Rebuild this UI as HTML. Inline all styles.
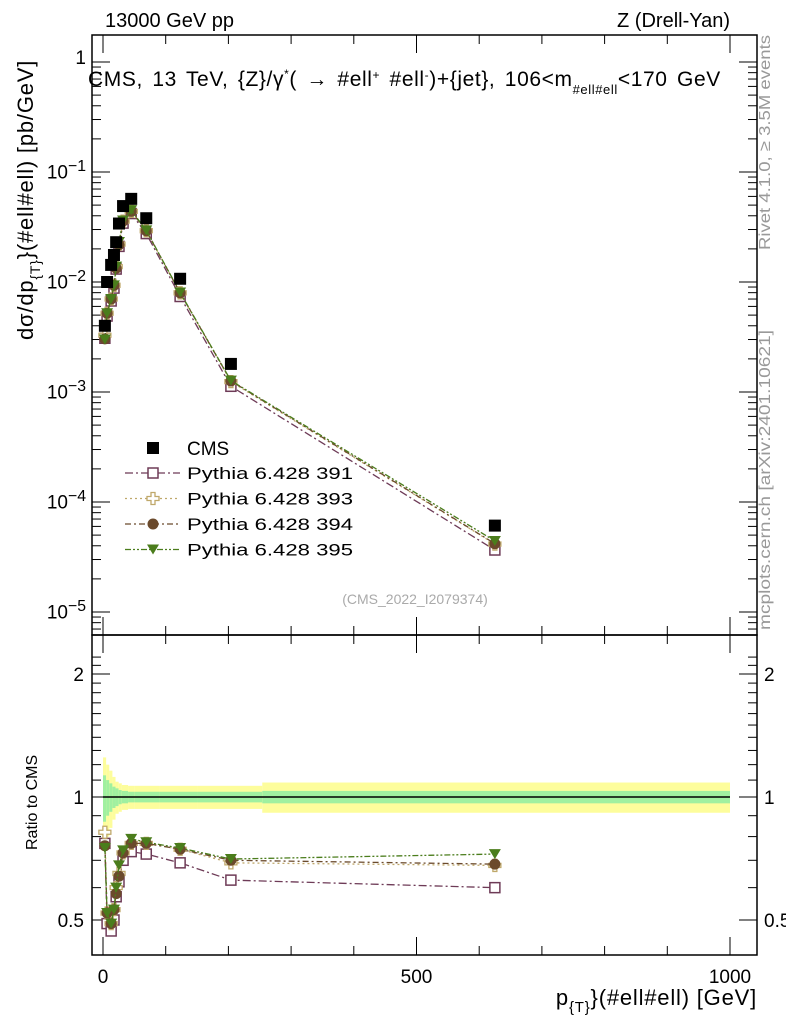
<!DOCTYPE html>
<html><head><meta charset="utf-8"><style>
body{margin:0;background:#fff}
svg text{font-family:"Liberation Sans",sans-serif}
</style></head><body>
<svg id="c" width="786" height="1024" xmlns="http://www.w3.org/2000/svg"></svg>
<script>
const xCenters=[3,6.5,13,17.5,21,25.5,32,45,69,123,204,625];
const cmsValues=[4.0e-3,1.0e-2,1.43e-2,1.76e-2,2.3e-2,3.4e-2,4.9e-2,5.7e-2,3.8e-2,1.07e-2,1.8e-3,6.1e-5];
const ratio391=[0.77,0.49,0.47,0.50,0.57,0.62,0.70,0.735,0.725,0.69,0.626,0.60];
const ratio393=[0.82,0.52,0.49,0.53,0.60,0.65,0.73,0.77,0.77,0.745,0.69,0.68];
const ratio394=[0.76,0.52,0.49,0.53,0.58,0.64,0.73,0.77,0.77,0.745,0.70,0.685];
const ratio395=[0.75,0.52,0.49,0.53,0.60,0.68,0.74,0.79,0.775,0.75,0.705,0.725];
const bandEdges=[0,5,10,15,20,25,30,40,50,90,150,254,1000];
const bandInner=[0.13,0.10,0.08,0.06,0.05,0.04,0.035,0.03,0.03,0.03,0.03,0.035];
const bandOuter=[0.25,0.20,0.16,0.12,0.09,0.08,0.07,0.065,0.065,0.065,0.065,0.085];
const yTicksMain=[1,0.1,0.01,0.001,0.0001,0.00001];
const yTickLabelsMain=["1","10<sup>−1</sup>","10<sup>−2</sup>","10<sup>−3</sup>","10<sup>−4</sup>","10<sup>−5</sup>"];
const xTicks=[0,500,1000];

const NS="http://www.w3.org/2000/svg",svg=document.getElementById('c');
const L=92,R=757,T=35,M=635,B=955;
const X=v=>103+0.627*v;
const Y=v=>62-110*Math.log10(v);
const YR=r=>797-408.6*Math.log10(r);
function el(t,a,p){const e=document.createElementNS(NS,t);for(const k in a)e.setAttribute(k,a[k]);(p||svg).appendChild(e);return e;}
function txt(x,y,s,a,p){const e=el('text',Object.assign({x:x,y:y,'font-size':19},a||{}),p);e.innerHTML=s;return e;}

const band=el('g',{});


for(let i=0;i<bandInner.length;i++){
 const x0=X(bandEdges[i]),x1=X(Math.min(bandEdges[i+1],1000));
 el('rect',{x:x0,y:YR(1+bandOuter[i]),width:x1-x0,height:YR(1-bandOuter[i])-YR(1+bandOuter[i]),fill:'#fdfd9c'},band);
 el('rect',{x:x0,y:YR(1+bandInner[i]),width:x1-x0,height:YR(1-bandInner[i])-YR(1+bandInner[i]),fill:'#a0f0a0'},band);
}
el('line',{x1:X(0),x2:X(1000),y1:YR(1),y2:YR(1),stroke:'#000','stroke-width':1.5});

el('rect',{x:L,y:T,width:R-L,height:M-T,fill:'none',stroke:'#000','stroke-width':1.5});
el('rect',{x:L,y:M,width:R-L,height:B-M,fill:'none',stroke:'#000','stroke-width':1.5});

for(let v=0;v<=1000;v+=100){const maj=v%500==0;
 for(const [yb,yt] of [[M,T],[B,M]]){
  el('line',{x1:X(v),x2:X(v),y1:yb,y2:yb-(maj?18:9),stroke:'#000'});
  el('line',{x1:X(v),x2:X(v),y1:yt,y2:yt+(maj?18:9),stroke:'#000'});
 }}
xTicks.forEach(v=>{const t=txt(X(v),983,String(v),{'text-anchor':'middle'});
 });

for(let d=-6;d<=0;d++)for(let k=1;k<=9;k++){const v=k*Math.pow(10,d),y=Y(v);if(y<T||y>M)continue;
 const w=k==1?18:9;el('line',{x1:L,x2:L+w,y1:y,y2:y,stroke:'#000'});el('line',{x1:R,x2:R-w,y1:y,y2:y,stroke:'#000'});}
yTicksMain.forEach((v,i)=>{const t=el('foreignObject',{x:20,y:Y(v)-14,width:66,height:30});
 
 t.innerHTML='<div xmlns="http://www.w3.org/1999/xhtml" style="font:19px Liberation Sans,sans-serif;text-align:right">'+yTickLabelsMain[i]+'</div>';});
for(let r=0.4;r<=2.25;r+=0.1){const y=YR(r);if(y<M||y>B)continue;const maj=Math.abs(r-0.5)<1e-6||Math.abs(r-1)<1e-6||Math.abs(r-2)<1e-6;
 const w=maj?18:9;el('line',{x1:L,x2:L+w,y1:y,y2:y,stroke:'#000'});el('line',{x1:R,x2:R-w,y1:y,y2:y,stroke:'#000'});}
[[2,"2"],[1,"1"],[0.5,"0.5"]].forEach(([r,s])=>{txt(84,YR(r)+7,s,{'text-anchor':'end'});txt(764,YR(r)+7,s,{});});

const series=[
 {name:'pythia-391',r:ratio391,c:'#6e3b57',dash:'8,3,2,3',m:'sq'},
 {name:'pythia-393',r:ratio393,c:'#bfa86a',dash:'2,3',m:'plus'},
 {name:'pythia-394',r:ratio394,c:'#6b4a2c',dash:'6,3,2,3',m:'circ'},
 {name:'pythia-395',r:ratio395,c:'#4b7d1c',dash:'6,2,2,2,2,2',m:'tri'}];
function marker(g,m,x,y,c){
 if(m=='sq')el('rect',{x:x-5,y:y-5,width:10,height:10,fill:'#fff',stroke:c,'stroke-width':1.5},g);
 else if(m=='plus')el('path',{d:`M${x-2},${y-6}h4v4h4v4h-4v4h-4v-4h-4v-4h4z`,fill:'#fff',stroke:c,'stroke-width':1.3},g);
 else if(m=='circ')el('circle',{cx:x,cy:y,r:5.5,fill:c},g);
 else el('path',{d:`M${x-6},${y-5}h12l-6,10z`,fill:c},g);
}
series.forEach(s=>{
 const g=el('g',{});
 const pm=xCenters.map((x,i)=>[X(x),Y(cmsValues[i]*s.r[i])]);
 const pr=xCenters.map((x,i)=>[X(x),YR(s.r[i])]);
 el('polyline',{points:pm.join(' '),fill:'none',stroke:s.c,'stroke-width':1.3,'stroke-dasharray':s.dash},g);
 el('polyline',{points:pr.join(' '),fill:'none',stroke:s.c,'stroke-width':1.3,'stroke-dasharray':s.dash},g);
 pm.forEach(p=>marker(g,s.m,p[0],p[1],s.c));pr.forEach(p=>marker(g,s.m,p[0],p[1],s.c));
});
const cg=el('g',{});
xCenters.forEach((x,i)=>el('rect',{x:X(x)-6,y:Y(cmsValues[i])-6,width:12,height:12,fill:'#000'},cg));

const lg=el('g',{});
el('rect',{x:147,y:442,width:12,height:12,fill:'#000'},lg);txt(187,455,'CMS',{},lg);
const names=['Pythia 6.428 391','Pythia 6.428 393','Pythia 6.428 394','Pythia 6.428 395'];
series.forEach((s,i)=>{const y=473+i*25.5;
 el('line',{x1:125,x2:180,y1:y,y2:y,stroke:s.c,'stroke-width':1.3,'stroke-dasharray':s.dash},lg);
 marker(lg,s.m,153,y,s.c);txt(187,y+6,names[i],{'font-size':17,textLength:166,lengthAdjust:'spacingAndGlyphs'},lg);});

txt(105,27,'13000 GeV pp',{'font-size':20});
txt(730,27,'Z (Drell-Yan)',{'font-size':20,'text-anchor':'end'});
txt(88,86,'CMS, 13 TeV, {Z}/γ<tspan dy="-8" font-size="12">*</tspan><tspan dy="8">( →  #ell</tspan><tspan dy="-7" font-size="12">+</tspan><tspan dy="7"> #ell</tspan><tspan dy="-7" font-size="12">-</tspan><tspan dy="7">)+{jet}, 106&lt;m</tspan><tspan dy="8" font-size="13">#ell#ell</tspan><tspan dy="-8">&lt;170 GeV</tspan>',{'font-size':21,'word-spacing':'3px','letter-spacing':'0.6px'});
txt(415,604,'(CMS_2022_I2079374)',{'font-size':14,fill:'#aaa','text-anchor':'middle'});
txt(0,0,'Rivet 4.1.0, ≥ 3.5M events',{'font-size':16,fill:'#999',transform:'translate(770,250) rotate(-90)',textLength:215,lengthAdjust:'spacingAndGlyphs'});
txt(0,0,'mcplots.cern.ch [arXiv:2401.10621]',{'font-size':16,fill:'#999',transform:'translate(770,630) rotate(-90)',textLength:300,lengthAdjust:'spacingAndGlyphs'});
txt(0,0,'dσ/dp<tspan dy="7" font-size="14">{T}</tspan><tspan dy="-7">}(#ell#ell) [pb/GeV]</tspan>',{'font-size':22,transform:'translate(33,340) rotate(-90)','letter-spacing':'0.8px'});
txt(0,0,'Ratio to CMS',{'font-size':16,transform:'translate(37,850) rotate(-90)'});
txt(757,1005,'p<tspan dy="7" font-size="15">{T}</tspan><tspan dy="-7">}(#ell#ell) [GeV]</tspan>',{'font-size':22,'text-anchor':'end','letter-spacing':'0.8px'});
</script>
</body></html>
